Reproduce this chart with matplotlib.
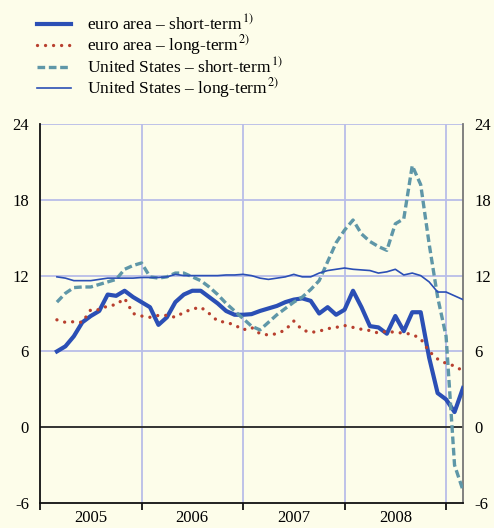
import matplotlib
matplotlib.use("Agg")
import matplotlib.pyplot as plt
from matplotlib.lines import Line2D
import numpy as np

plt.rcParams["font.family"] = ["Liberation Serif", "DejaVu Serif"]
plt.rcParams["mathtext.fontset"] = "stix"

# monthly data, March 2005 - March 2009 (annual percentage changes)
ea_short = [6.0, 6.4, 7.2, 8.3, 8.8, 9.2, 10.5, 10.4, 10.8, 10.3,
            9.9, 9.5, 8.1, 8.7, 9.9, 10.5, 10.8, 10.8, 10.3, 9.8,
            9.2, 8.9, 8.9, 8.95, 9.2, 9.4, 9.6, 9.9, 10.1, 10.2,
            10.0, 9.0, 9.5, 8.9, 9.3, 10.8, 9.5, 8.0, 7.9, 7.4,
            8.8, 7.6, 9.1, 9.1, 5.5, 2.7, 2.2, 1.2, 3.1]
ea_long = [8.5, 8.3, 8.35, 8.3, 9.3, 9.3, 9.6, 9.7, 10.2, 9.0,
           8.8, 8.7, 8.85, 8.85, 8.7, 9.1, 9.35, 9.5, 9.0, 8.4,
           8.3, 8.1, 7.7, 7.9, 7.4, 7.3, 7.4, 7.7, 8.4, 7.7,
           7.5, 7.6, 7.8, 7.9, 8.05, 7.9, 7.75, 7.65, 7.45, 7.6,
           7.5, 7.45, 7.35, 7.0, 6.0, 5.4, 5.05, 4.85, 4.45]
us_short = [9.9, 10.6, 11.05, 11.1, 11.1, 11.3, 11.5, 11.7, 12.5, 12.8,
            13.0, 11.9, 11.8, 11.9, 12.2, 12.2, 11.9, 11.6, 11.1, 10.5,
            9.8, 9.2, 8.6, 8.0, 7.7, 8.3, 8.9, 9.4, 9.9, 10.3,
            10.9, 11.6, 13.1, 14.6, 15.6, 16.4, 15.3, 14.7, 14.3, 14.0,
            16.1, 16.5, 20.7, 19.2, 14.5, 10.3, 7.2, -3.0, -5.0]
us_long = [11.9, 11.8, 11.6, 11.6, 11.6, 11.7, 11.8, 11.8, 11.8, 11.8,
           11.85, 11.85, 11.85, 11.9, 12.1, 12.0, 12.0, 12.0, 12.0, 12.0,
           12.05, 12.05, 12.1, 12.0, 11.8, 11.7, 11.8, 11.9, 12.1, 11.9,
           11.9, 12.2, 12.4, 12.5, 12.6, 12.5, 12.45, 12.4, 12.2, 12.3,
           12.5, 12.05, 12.2, 12.0, 11.5, 10.7, 10.7, 10.4, 10.1]

years = [2005, 2006, 2007, 2008]
yticks = [-6, 0, 6, 12, 18, 24]

t = 2005 + (np.arange(len(ea_short)) + 2) / 12.0

BG = "#fdfdea"
GRID = "#b9bde8"
C_BLUE = "#2b4fb5"
C_RED = "#b8402f"
C_TEAL = "#5f97a8"

fig = plt.figure(figsize=(4.94, 5.28), dpi=100, facecolor=BG)
ax = fig.add_axes([40/494, 25/528, 423/494, 379/528], facecolor=BG)

ax.set_xlim(2005, 2009 + 2/12)
ax.set_ylim(-6, 24)

for y in [6, 12, 18, 24]:
    ax.axhline(y, color=GRID, lw=1.3, zorder=1)
for x in [2006, 2007, 2008, 2009]:
    ax.axvline(x, color=GRID, lw=1.3, zorder=1)
ax.axhline(0, color="#333333", lw=1.4, zorder=2)

ax.plot(t, ea_short, color=C_BLUE, lw=3.0, solid_joinstyle="round", zorder=3)
ax.plot(t, ea_long, color=C_RED, lw=2.4, linestyle=(0, (0.01, 2.4)),
        dash_capstyle="round", zorder=4)
ax.plot(t, us_short, color=C_TEAL, lw=2.4, linestyle=(0, (2.3, 1.1)), zorder=5)
ax.plot(t, us_long, color=C_BLUE, lw=1.2, zorder=6)

ax.spines["top"].set_visible(False)
ax.spines["left"].set_color("#111111")
ax.spines["bottom"].set_color("#111111")
ax.spines["right"].set_color("#777777")
for s in ["left", "bottom", "right"]:
    ax.spines[s].set_linewidth(1.3)

ax.set_yticks(yticks)
ax.set_yticklabels([str(v) for v in yticks])
ax.tick_params(axis="y", which="both", length=0, labelsize=12, pad=8,
               labelleft=True, labelright=True, left=False, right=False)

ax.set_xticks([2005, 2006, 2007, 2008, 2009])
ax.set_xticklabels([])
ax.set_xticks([y + 0.5 for y in years], minor=True)
ax.set_xticklabels([str(y) for y in years], minor=True)
ax.tick_params(axis="x", which="major", direction="out", length=5, width=1.3, color="#111111")
ax.tick_params(axis="x", which="minor", length=0, labelsize=12, pad=5)

# legend drawn by hand above the plot
legend_rows = [
    ("euro area \u2013 short-term$^{\\,1)}$", dict(color=C_BLUE, lw=3.0)),
    ("euro area \u2013 long-term$^{\\,2)}$", dict(color=C_RED, lw=2.4, linestyle=(0, (0.01, 2.4)), dash_capstyle="round")),
    ("United States \u2013 short-term$^{\\,1)}$", dict(color=C_TEAL, lw=2.4, linestyle=(0, (2.3, 1.1)))),
    ("United States \u2013 long-term$^{\\,2)}$", dict(color=C_BLUE, lw=1.2)),
]
row_y = [24, 45, 67, 88]
for (label, style), yy in zip(legend_rows, row_y):
    yf = 1 - yy / 528
    fig.add_artist(Line2D([37/494, 71/494], [yf, yf], transform=fig.transFigure, **style))
    fig.text(87/494, yf, label, fontsize=12.5, va="center", ha="left")

fig.savefig("out.png", dpi=100, facecolor=BG)
